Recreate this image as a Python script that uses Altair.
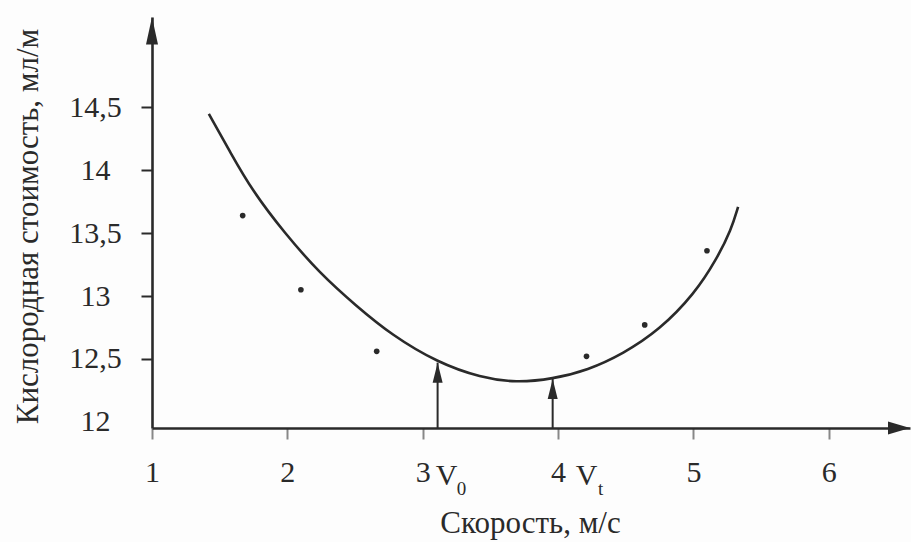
import altair as alt
import pandas as pd

# Measured oxygen cost at each swimming speed
speed_obs = [1.67, 2.10, 2.66, 4.21, 4.64, 5.10]
cost_obs = [13.64, 13.05, 12.56, 12.52, 12.77, 13.36]

# Smoothed cost curve
curve_speed = [1.42, 1.58, 1.74, 1.98, 2.24, 2.51, 2.77, 3.11, 3.43, 3.69,
               3.96, 4.22, 4.48, 4.75, 5.01, 5.17, 5.28, 5.33]
curve_cost = [14.45, 14.14, 13.84, 13.50, 13.18, 12.92, 12.69, 12.47, 12.35, 12.31,
              12.34, 12.41, 12.54, 12.73, 13.02, 13.29, 13.53, 13.71]

# Marked speeds V0 and Vt with the curve value above each
mark_speed = [3.11, 3.96]
mark_cost = [12.47, 12.34]
mark_sub = ["0", "t"]

x_ticks = [1, 2, 3, 4, 5, 6]
y_ticks = [12, 12.5, 13, 13.5, 14, 14.5]

X_MIN, X_MAX = 1, 6.6
Y_MIN, Y_MAX = 11.95, 15.22

INK = "#2a2a2a"
FONT = "Liberation Serif"

obs = pd.DataFrame({"speed": speed_obs, "cost": cost_obs})
curve = pd.DataFrame({"speed": curve_speed, "cost": curve_cost})
marks = pd.DataFrame({"speed": mark_speed, "cost": mark_cost, "sub": mark_sub})

xs = alt.Scale(domain=[X_MIN, X_MAX], nice=False, zero=False)
ys = alt.Scale(domain=[Y_MIN, Y_MAX], nice=False, zero=False)

x_axis = alt.Axis(
    values=x_ticks, format="d", title="Скорость, м/с",
    labelFlush=False, labelOverlap=False, grid=False,
    tickSize=11, tickWidth=2, labelPadding=18,
    titleX=378, titleY=95, titleBaseline="middle", titleAnchor="middle",
)
y_axis = alt.Axis(
    values=y_ticks, title="Кислородная стоимость, мл/м",
    labelExpr="replace(format(datum.value, '~g'), '.', ',')",
    labelAlign="center", labelPadding=46,
    labelFlush=False, labelOverlap=False, grid=False,
    tickSize=11, tickWidth=2,
    tickColor={"condition": {"test": "datum.value == 12", "value": "transparent"}, "value": INK},
    titleX=-124, titleY=209, titleBaseline="middle", titleAngle=270,
)

line = alt.Chart(curve).mark_line(interpolate="basis", color=INK, strokeWidth=2.6).encode(
    x=alt.X("speed:Q", scale=xs, axis=x_axis),
    y=alt.Y("cost:Q", scale=ys, axis=y_axis),
)

dots = alt.Chart(obs).mark_circle(size=32, color=INK, opacity=1).encode(
    x=alt.X("speed:Q", scale=xs),
    y=alt.Y("cost:Q", scale=ys),
)

shafts = alt.Chart(marks).mark_rule(color=INK, strokeWidth=2).encode(
    x=alt.X("speed:Q", scale=xs),
    y=alt.Y("cost:Q", scale=ys),
    y2=alt.datum(Y_MIN),
)

heads = alt.Chart(marks).mark_point(
    shape="M0,0L0.5,2L-0.5,2Z", filled=True, size=400, color=INK, opacity=1
).encode(
    x=alt.X("speed:Q", scale=xs),
    y=alt.Y("cost:Q", scale=ys),
)


def speed_label(sub, v_dx, sub_dx):
    """'V' with its subscript, set beside the marked speed on the x axis."""
    src = alt.Chart(marks).transform_filter(alt.datum.sub == sub)
    letter = src.mark_text(
        font=FONT, fontSize=30, color=INK, baseline="alphabetic", align="center",
        dx=v_dx, dy=57,
    ).encode(x=alt.X("speed:Q", scale=xs), y=alt.datum(Y_MIN), text=alt.value("V"))
    index = src.mark_text(
        font=FONT, fontSize=19, color=INK, baseline="alphabetic", align="center",
        dx=sub_dx, dy=67,
    ).encode(x=alt.X("speed:Q", scale=xs), y=alt.datum(Y_MIN), text="sub:N")
    return letter + index


y_arrow = alt.Chart(pd.DataFrame({"k": [0]})).mark_point(
    shape="M0,0L0.5,2.3L-0.5,2.3Z", filled=True, size=576, color=INK, opacity=1
).encode(x=alt.datum(X_MIN), y=alt.datum(Y_MAX))

x_arrow = alt.Chart(pd.DataFrame({"k": [0]})).mark_point(
    shape="M0,0L-2,-0.6L-2,0.6Z", filled=True, size=484, color=INK, opacity=1
).encode(x=alt.datum(X_MAX), y=alt.datum(Y_MIN))

chart = alt.layer(
    line, dots, shafts, heads,
    speed_label("0", 9, 24), speed_label("t", 34, 48),
    y_arrow, x_arrow,
).properties(
    width=758, height=411,
    autosize=alt.AutoSizeParams(type="none"),
    padding={"left": 152, "top": 17, "right": 1, "bottom": 114},
    background="#fdfdfd",
).configure_view(stroke=None).configure_axis(
    domainColor=INK, domainWidth=2.6, labelColor=INK, titleColor=INK,
    labelFont=FONT, titleFont=FONT, labelFontSize=30, titleFontSize=31,
    labelFontWeight="normal", titleFontWeight="normal",
)

chart.save("out.html", embed_options={"renderer": "svg", "actions": False})
